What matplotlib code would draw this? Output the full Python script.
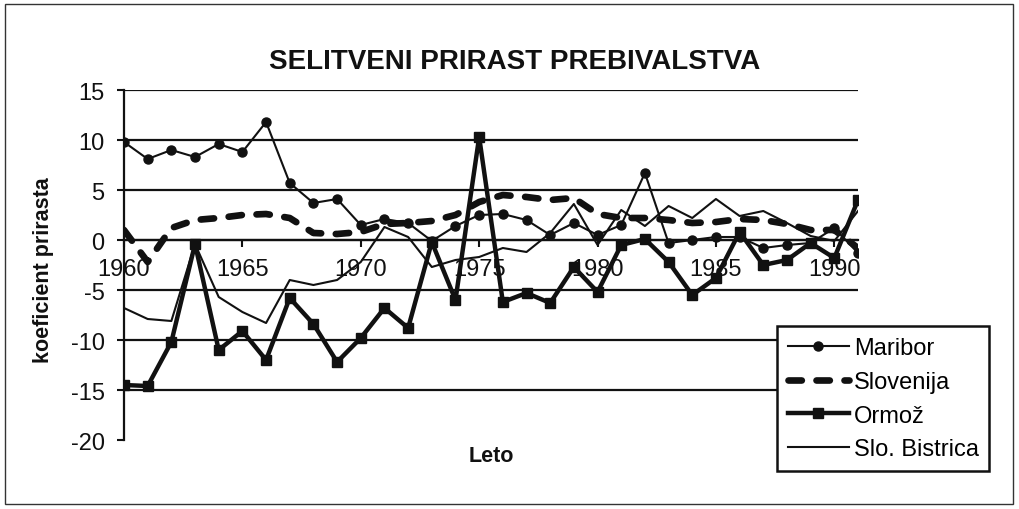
import matplotlib
matplotlib.use("Agg")
import matplotlib.pyplot as plt
from matplotlib.patches import Rectangle

plt.rcParams['font.family'] = ['Liberation Sans', 'DejaVu Sans']

years = list(range(1960, 1992))
maribor = [9.8, 8.1, 9.0, 8.3, 9.6, 8.8, 11.8, 5.7, 3.7, 4.1,
           1.5, 2.1, 1.7, -0.1, 1.4, 2.5, 2.6, 2.0, 0.5, 1.7,
           0.5, 1.5, 6.7, -0.3, 0.0, 0.3, 0.3, -0.8, -0.5, -0.3,
           1.2, -1.3]
slovenija = [1.0, -2.2, 1.2, 2.0, 2.2, 2.5, 2.6, 2.2, 0.7, 0.6,
             0.8, 1.6, 1.7, 1.9, 2.5, 3.8, 4.5, 4.3, 4.0, 4.2,
             2.6, 2.2, 2.2, 2.0, 1.7, 1.8, 2.1, 2.0, 1.6, 1.0,
             1.0, -0.8]
ormoz = [-14.5, -14.6, -10.2, -0.4, -11.0, -9.1, -12.0, -5.8, -8.4, -12.2,
         -9.8, -6.8, -8.8, -0.2, -6.0, 10.3, -6.2, -5.3, -6.3, -2.7,
         -5.2, -0.5, 0.1, -2.2, -5.5, -3.8, 0.8, -2.5, -2.0, -0.3,
         -1.8, 4.0]
bistrica = [-6.8, -7.9, -8.1, -0.4, -5.7, -7.2, -8.3, -4.0, -4.5, -4.0,
            -2.2, 1.3, 0.3, -2.7, -2.0, -1.7, -0.8, -1.2, 0.7, 3.6,
            -0.5, 3.0, 1.4, 3.4, 2.2, 4.1, 2.4, 2.9, 1.7, 0.4,
            -0.1, 2.9]
yticks = [15, 10, 5, 0, -5, -10, -15, -20]
xticks = [1960, 1965, 1970, 1975, 1980, 1985, 1990]

col = '#111111'
fig = plt.figure(figsize=(10.2, 5.1), dpi=100)
fig.patches.append(Rectangle((5/1020, 5/510), 1008/1020, 500/510, transform=fig.transFigure,
                             fill=False, edgecolor='#333333', linewidth=1.0))
ax = fig.add_axes([124/1020, 69/510, 734/1020, 350/510])

ax.set_xlim(1960, 1991)
ax.set_ylim(-20, 15)
for v in yticks:
    if v > -20:
        ax.axhline(v, color=col, linewidth=1.6, zorder=1)

ax.plot(years, maribor, color=col, linewidth=1.5, marker='o', markersize=6.5, label='Maribor', zorder=3)
ax.plot(years, slovenija, color=col, linewidth=4.8, linestyle=(0, (2.0, 2.2)), dash_capstyle='round',
        label='Slovenija', zorder=4)
ax.plot(years, ormoz, color=col, linewidth=3.2, marker='s', markersize=7, label='Ormož', zorder=3)
ax.plot(years, bistrica, color=col, linewidth=1.5, label='Slo. Bistrica', zorder=2)

for s in ['top', 'right']:
    ax.spines[s].set_visible(False)
ax.spines['left'].set_color(col)
ax.spines['left'].set_linewidth(1.6)
ax.spines['bottom'].set_position(('data', 0))
ax.spines['bottom'].set_color(col)
ax.spines['bottom'].set_linewidth(1.6)

ax.set_yticks(yticks)
ax.set_yticklabels([str(v) for v in yticks])
ax.set_xticks(xticks)
ax.set_xticklabels([str(v) for v in xticks])
ax.tick_params(axis='y', direction='out', length=5, width=1.5, pad=9, labelsize=17, colors=col)
ax.tick_params(axis='x', direction='out', length=5, width=1.5, pad=8, labelsize=17, colors=col)

fig.text(0.505, 1 - 62/510, 'SELITVENI PRIRAST PREBIVALSTVA', ha='center', va='center',
         fontsize=20, fontweight='bold', color=col)
fig.text(44/1020, 1 - 270/510, 'koeficient prirasta', ha='center', va='center', rotation=90,
         fontsize=15.5, fontweight='bold', color=col)
fig.text(491/1020, 1 - 457/510, 'Leto', ha='center', va='center',
         fontsize=15.5, fontweight='bold', color=col)

leg = fig.legend(loc='lower left', bbox_to_anchor=(777/1020, 38/510), fontsize=17,
                 frameon=True, fancybox=False, framealpha=1, edgecolor=col,
                 handlelength=2.6, handletextpad=0.2, labelspacing=0.5,
                 borderpad=0.45, borderaxespad=0)
leg.get_frame().set_linewidth(1.8)

fig.savefig('out.png', dpi=100)
